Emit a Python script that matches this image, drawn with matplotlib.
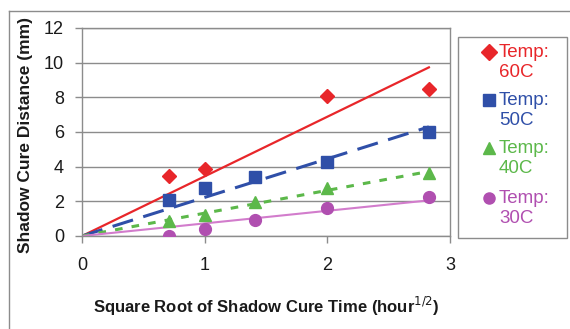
import numpy as np
import matplotlib
matplotlib.use("Agg")
import matplotlib.pyplot as plt
from matplotlib.lines import Line2D
from matplotlib.patches import Rectangle

plt.rcParams['font.family'] = ['Liberation Sans', 'DejaVu Sans']

# sqrt of shadow cure time (hours 0.5, 1, 2, 4, 8)
x_60 = [0.707, 1.0, 2.0, 2.828]
y_60 = [3.46, 3.85, 8.05, 8.5]
x_all = [0.707, 1.0, 1.414, 2.0, 2.828]
y_50 = [2.08, 2.75, 3.4, 4.25, 6.0]
y_40 = [0.87, 1.2, 1.96, 2.75, 3.65]
y_30 = [0.0, 0.4, 0.92, 1.6, 2.25]

labels = ["Temp:\n60C", "Temp:\n50C", "Temp:\n40C", "Temp:\n30C"]
colors = ["#e8262a", "#2f4fa8", "#5cb84a", "#b04fb0"]
line_colors = ["#e8262a", "#2f4fa8", "#5cb84a", "#d27ccc"]
markers = ["D", "s", "^", "o"]
msizes = [7, 8, 8.5, 8.5]
lstyles = ["-", (0, (7, 3.5)), (0, (2.5, 3)), "-"]
lwidths = [1.6, 2.2, 2.2, 1.5]

series = [(x_60, y_60), (x_all, y_50), (x_all, y_40), (x_all, y_30)]

fig = plt.figure(figsize=(5.7, 3.29), dpi=100)
W, H = 570, 329
ax = fig.add_axes([82 / W, 1 - 236 / H, (450 - 82) / W, (236 - 28) / H])

for (xs, ys), c, lc, m, ms, ls, lw in zip(series, colors, line_colors, markers, msizes, lstyles, lwidths):
    xs = np.array(xs); ys = np.array(ys)
    slope = np.sum(xs * ys) / np.sum(xs * xs)  # trendline through origin
    xl = np.array([0, xs.max()])
    ax.plot(xl, slope * xl, color=lc, ls=ls, lw=lw, zorder=2)
    ax.plot(xs, ys, ls='none', marker=m, ms=ms, color=c, mec=c, zorder=3)

ax.set_xlim(0, 3)
ax.set_ylim(0, 12)
ax.set_xticks([0, 1, 2, 3])
ax.set_yticks(range(0, 13, 2))
ax.yaxis.grid(True, color="#8c8c8c", lw=1.0)
ax.set_axisbelow(True)
for s in ax.spines.values():
    s.set_color("#8c8c8c")
    s.set_linewidth(1.0)
ax.tick_params(colors="#8c8c8c", labelcolor="#1a1a1a", labelsize=13, length=5, width=1.0)
ax.tick_params(axis='x', pad=10)
ax.tick_params(axis='y', pad=8)
ax.set_xlabel("Square Root of Shadow Cure Time (hour$^{1/2}$)", fontsize=12, fontweight='bold',
              color="#1a1a1a")
ax.xaxis.set_label_coords(0.5, -(306 - 236) / (236 - 28), transform=ax.transAxes)
ax.xaxis.label.set_va('center')
ax.set_ylabel("Shadow Cure Distance (mm)", fontsize=12.5, fontweight='bold', color="#1a1a1a")
ax.yaxis.set_label_coords(-(82 - 26) / (450 - 82), (236 - 135) / (236 - 28), transform=ax.transAxes)
ax.yaxis.label.set_va('center')

# outer chart frame
fig.add_artist(Line2D([9 / W, 1.0], [1 - 11 / H] * 2, transform=fig.transFigure, color="#8c8c8c", lw=1.0))
fig.add_artist(Line2D([9 / W] * 2, [0, 1 - 11 / H], transform=fig.transFigure, color="#8c8c8c", lw=1.0))

# legend box
fig.add_artist(Rectangle((458 / W, 1 - 238 / H), (567 - 458) / W, (238 - 37) / H,
                         transform=fig.transFigure, fill=False, ec="#8c8c8c", lw=1.0))
y0 = [52, 100, 148, 198]
for lab, c, m, yy in zip(labels, colors, markers, y0):
    fig.add_artist(Line2D([489 / W], [1 - yy / H], transform=fig.transFigure, marker=m,
                          ms=8, color=c, mec=c, ls='none'))
    fig.text(499 / W, 1 - (yy - 8) / H, lab, color=c, fontsize=13.5, va='top', ha='left',
             linespacing=1.2)

fig.savefig("out.png", dpi=100)
